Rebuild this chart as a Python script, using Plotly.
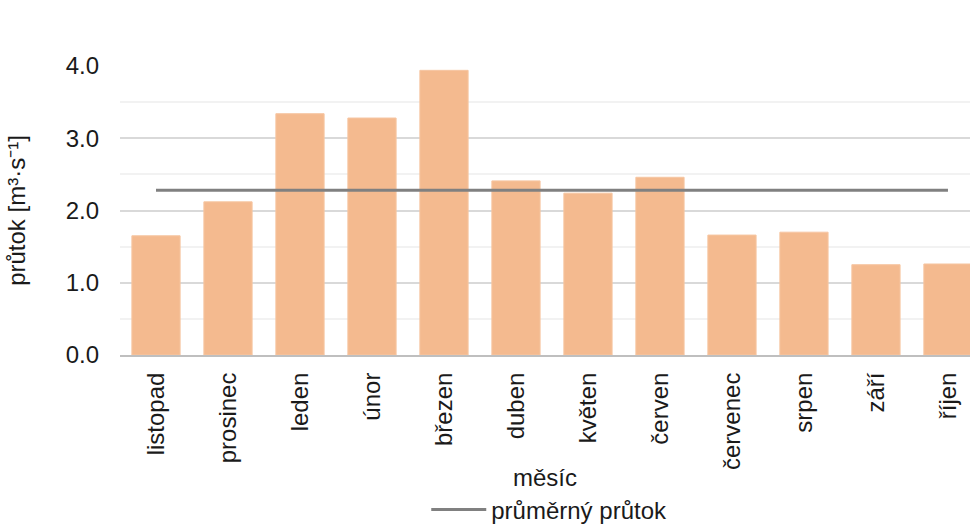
import plotly.graph_objects as go

months = ["listopad", "prosinec", "leden", "únor", "březen", "duben", "květen",
          "červen", "červenec", "srpen", "září", "říjen"]
flow = [1.65, 2.12, 3.34, 3.28, 3.94, 2.41, 2.24, 2.46, 1.66, 1.70, 1.25, 1.26]
mean_flow = [2.28] * len(months)

FONT = "Liberation Sans, Arial, sans-serif"
FS = 24

fig = go.Figure()
fig.add_trace(go.Bar(
    x=months, y=flow, name="průtok", showlegend=False,
    marker=dict(color="#F4BA8F", line=dict(color="#F6C6A2", width=1)),
    width=0.67,
))
fig.add_trace(go.Scatter(
    x=months, y=mean_flow, name="průměrný průtok", mode="lines",
    line=dict(color="#808080", width=3),
))

fig.update_layout(
    width=970, height=526,
    margin=dict(l=120, r=0, t=66, b=171, autoexpand=False),
    paper_bgcolor="white", plot_bgcolor="white",
    font=dict(family=FONT, size=FS, color="#1a1a1a"),
    bargap=0.33,
    legend=dict(orientation="h", x=0.505, xanchor="center", y=-0.536, yanchor="middle",
                font=dict(size=FS), tracegroupgap=0, itemwidth=55),
    xaxis=dict(
        range=[-0.5, 11.306], tickangle=-90, showgrid=False,
        showline=True, linecolor="#BFBFBF", linewidth=2,
        ticks="", ticklabelstandoff=6,
        title=dict(text="měsíc", standoff=0, font=dict(size=FS)),
    ),
    yaxis=dict(
        range=[0, 4.0], dtick=1.0, tickformat=".1f",
        showgrid=True, gridcolor="#D9D9D9", gridwidth=1.5,
        minor=dict(dtick=0.5, showgrid=True, gridcolor="#F2F2F2", gridwidth=1.5),
        zeroline=False, ticks="", ticklabelstandoff=20,
        title=dict(text="průtok [m³·s⁻¹]", standoff=33, font=dict(size=FS)),
    ),
)

fig.write_html(
    "out.html",
    config={"displayModeBar": False},
    post_script="document.body.style.margin='0px';document.body.style.overflow='hidden';",
)
